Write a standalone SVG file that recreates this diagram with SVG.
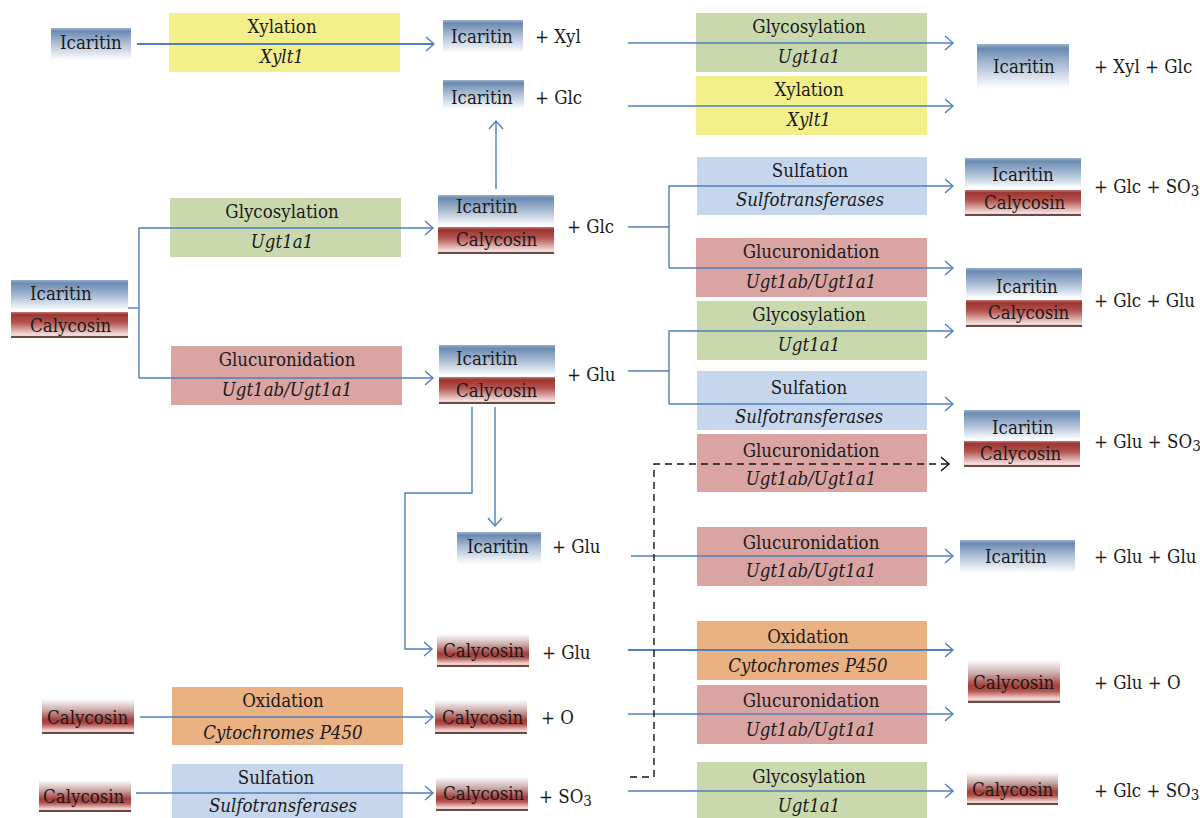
<svg xmlns="http://www.w3.org/2000/svg" width="1200" height="818" viewBox="0 0 1200 818">
<style>
text{font-family:"DejaVu Serif Condensed","DejaVu Serif",serif;font-stretch:condensed;font-size:18.5px;fill:#1a1a1a}
.c{text-anchor:middle}
.i{font-style:italic}
.yel{fill:#f3ef8b}
.grn{fill:#cad9ad}
.blu{fill:#c5d6ed}
.red{fill:#d9a4a2}
.org{fill:#eab182}
.ln{fill:none;stroke:#4f7fbe;stroke-width:1.4}
.thk{stroke-width:2}
.dash{fill:none;stroke:#111;stroke-width:1.4;stroke-dasharray:7,5}
.sub{font-size:15px}
</style>
<defs>
<linearGradient id="gI" x1="0" y1="0" x2="0" y2="1">
<stop offset="0" stop-color="#9fb3cd"/><stop offset="0.1" stop-color="#6a89b2"/><stop offset="0.45" stop-color="#a9bcd4"/><stop offset="1" stop-color="#ffffff"/>
</linearGradient>
<linearGradient id="gIS" x1="0" y1="0" x2="0" y2="1">
<stop offset="0" stop-color="#9ab0cb"/><stop offset="0.1" stop-color="#6b8ab2"/><stop offset="0.5" stop-color="#aabdd5"/><stop offset="0.95" stop-color="#ffffff"/><stop offset="1" stop-color="#ffffff"/>
</linearGradient>
<linearGradient id="gCS" x1="0" y1="0" x2="0" y2="1">
<stop offset="0" stop-color="#c77a76"/><stop offset="0.1" stop-color="#9c3531"/><stop offset="0.4" stop-color="#b4524d"/><stop offset="0.88" stop-color="#f5e1df"/><stop offset="0.93" stop-color="#e6c9c6"/><stop offset="0.94" stop-color="#6b4a45"/><stop offset="1" stop-color="#6b4a45"/>
</linearGradient>
<linearGradient id="gC" x1="0" y1="0" x2="0" y2="1">
<stop offset="0" stop-color="#ffffff"/><stop offset="0.3" stop-color="#cdb0ae"/><stop offset="0.6" stop-color="#a33e39"/><stop offset="0.72" stop-color="#b4524d"/><stop offset="0.9" stop-color="#f2d6d3"/><stop offset="0.94" stop-color="#e6c9c6"/><stop offset="0.95" stop-color="#6b4a45"/><stop offset="1" stop-color="#6b4a45"/>
</linearGradient>
<marker id="ah" viewBox="-10 -8 12 16" refX="0" refY="0" markerWidth="12" markerHeight="16" markerUnits="userSpaceOnUse" orient="auto">
<path d="M-8,-7 L0,0 L-8,7" fill="none" stroke="#4f7fbe" stroke-width="1.4"/>
</marker>
<marker id="ahk" viewBox="-10 -8 12 16" refX="0" refY="0" markerWidth="12" markerHeight="16" markerUnits="userSpaceOnUse" orient="auto">
<path d="M-8,-7 L0,0 L-8,7" fill="none" stroke="#111" stroke-width="1.4"/>
</marker>
</defs>
<rect width="1200" height="818" fill="#ffffff"/>

<!-- enzyme boxes -->
<g id="e-xyl-1"><rect class="yel" x="169" y="13" width="231" height="59"/><text class="c" x="282" y="33">Xylation</text><text class="c i" x="282" y="63">Xylt1</text></g>
<g id="e-gly-1"><rect class="grn" x="696" y="13" width="231" height="59"/><text class="c" x="809" y="33">Glycosylation</text><text class="c i" x="809" y="63">Ugt1a1</text></g>
<g id="e-xyl-2"><rect class="yel" x="696" y="76" width="231" height="59"/><text class="c" x="809" y="96">Xylation</text><text class="c i" x="809" y="126">Xylt1</text></g>
<g id="e-sul-1"><rect class="blu" x="697" y="157" width="230" height="58"/><text class="c" x="810" y="177">Sulfation</text><text class="c i" x="810" y="206">Sulfotransferases</text></g>
<g id="e-gly-2"><rect class="grn" x="170" y="198" width="231" height="59"/><text class="c" x="282" y="218">Glycosylation</text><text class="c i" x="282" y="248">Ugt1a1</text></g>
<g id="e-glu-1"><rect class="red" x="696" y="238" width="231" height="59"/><text class="c" x="811" y="258">Glucuronidation</text><text class="c i" x="811" y="288">Ugt1ab/Ugt1a1</text></g>
<g id="e-gly-3"><rect class="grn" x="697" y="301" width="230" height="59"/><text class="c" x="809" y="321">Glycosylation</text><text class="c i" x="809" y="351">Ugt1a1</text></g>
<g id="e-glu-2"><rect class="red" x="171" y="346" width="231" height="59"/><text class="c" x="287" y="366">Glucuronidation</text><text class="c i" x="287" y="396">Ugt1ab/Ugt1a1</text></g>
<g id="e-sul-2"><rect class="blu" x="697" y="371" width="230" height="59"/><text class="c" x="809" y="394">Sulfation</text><text class="c i" x="809" y="423">Sulfotransferases</text></g>
<g id="e-glu-3"><rect class="red" x="697" y="434" width="230" height="58"/><text class="c" x="811" y="457">Glucuronidation</text><text class="c i" x="811" y="485">Ugt1ab/Ugt1a1</text></g>
<g id="e-glu-4"><rect class="red" x="697" y="527" width="230" height="59"/><text class="c" x="811" y="549">Glucuronidation</text><text class="c i" x="811" y="577">Ugt1ab/Ugt1a1</text></g>
<g id="e-ox-1"><rect class="org" x="697" y="621" width="230" height="59"/><text class="c" x="808" y="643">Oxidation</text><text class="c i" x="808" y="672">Cytochromes P450</text></g>
<g id="e-glu-5"><rect class="red" x="697" y="685" width="230" height="59"/><text class="c" x="811" y="707">Glucuronidation</text><text class="c i" x="811" y="736">Ugt1ab/Ugt1a1</text></g>
<g id="e-ox-2"><rect class="org" x="172" y="687" width="231" height="58"/><text class="c" x="283" y="707">Oxidation</text><text class="c i" x="283" y="739">Cytochromes P450</text></g>
<g id="e-sul-3"><rect class="blu" x="172" y="764" width="231" height="54"/><text class="c" x="276" y="784">Sulfation</text><text class="c i" x="283" y="812">Sulfotransferases</text></g>
<g id="e-gly-4"><rect class="grn" x="697" y="762" width="230" height="56"/><text class="c" x="809" y="783">Glycosylation</text><text class="c i" x="809" y="812">Ugt1a1</text></g>

<!-- compound nodes -->
<g id="n-icar-1"><rect fill="url(#gI)" x="51" y="28" width="80" height="32"/><text x="60" y="49">Icaritin</text></g>
<g id="n-icar-xyl"><rect fill="url(#gI)" x="443" y="20" width="80" height="33"/><text x="451" y="43">Icaritin</text><text x="535" y="43">+ Xyl</text></g>
<g id="n-icar-glc"><rect fill="url(#gI)" x="443" y="80" width="81" height="29"/><text x="451" y="104">Icaritin</text><text x="535" y="104">+ Glc</text></g>
<g id="n-icar-xyl-glc"><rect fill="url(#gI)" x="977" y="44" width="92" height="44"/><text x="993" y="73">Icaritin</text><text x="1094" y="73">+ Xyl + Glc</text></g>

<g id="n-ic-left"><rect fill="url(#gIS)" x="11" y="280" width="117" height="32"/><rect fill="url(#gCS)" x="11" y="312" width="117" height="26"/><text x="30" y="300">Icaritin</text><text x="30" y="332">Calycosin</text></g>
<g id="n-ic-glc"><rect fill="url(#gIS)" x="438" y="195" width="116" height="32"/><rect fill="url(#gCS)" x="438" y="227" width="116" height="27"/><text x="456" y="213">Icaritin</text><text x="456" y="246">Calycosin</text><text x="567" y="233">+ Glc</text></g>
<g id="n-ic-glu"><rect fill="url(#gIS)" x="439" y="345" width="116" height="32"/><rect fill="url(#gCS)" x="439" y="377" width="116" height="27"/><text x="456" y="365">Icaritin</text><text x="456" y="397">Calycosin</text><text x="567" y="381">+ Glu</text></g>
<g id="n-ic-glc-so3"><rect fill="url(#gIS)" x="965" y="158" width="116" height="32"/><rect fill="url(#gCS)" x="965" y="190" width="116" height="26"/><text x="992" y="181">Icaritin</text><text x="984" y="209">Calycosin</text><text x="1094" y="193">+ Glc + SO<tspan class="sub" dy="3">3</tspan></text></g>
<g id="n-ic-glc-glu"><rect fill="url(#gIS)" x="966" y="268" width="116" height="32"/><rect fill="url(#gCS)" x="966" y="300" width="116" height="27"/><text x="996" y="293">Icaritin</text><text x="988" y="319">Calycosin</text><text x="1094" y="307">+ Glc + Glu</text></g>
<g id="n-ic-glu-so3"><rect fill="url(#gIS)" x="964" y="410" width="116" height="31"/><rect fill="url(#gCS)" x="964" y="441" width="116" height="26"/><text x="992" y="434">Icaritin</text><text x="980" y="460">Calycosin</text><text x="1094" y="448">+ Glu + SO<tspan class="sub" dy="3">3</tspan></text></g>

<g id="n-icar-glu"><rect fill="url(#gI)" x="457" y="532" width="84" height="32"/><text x="467" y="553">Icaritin</text><text x="552" y="553">+ Glu</text></g>
<g id="n-icar-glu-glu"><rect fill="url(#gI)" x="960" y="540" width="115" height="33"/><text x="985" y="563">Icaritin</text><text x="1094" y="563">+ Glu + Glu</text></g>
<g id="n-caly-glu"><rect fill="url(#gC)" x="437" y="634" width="92" height="33"/><text x="443" y="657">Calycosin</text><text x="542" y="659">+ Glu</text></g>
<g id="n-caly-glu-o"><rect fill="url(#gC)" x="968" y="660" width="92" height="43"/><text x="973" y="689">Calycosin</text><text x="1094" y="689">+ Glu + O</text></g>
<g id="n-caly-1"><rect fill="url(#gC)" x="42" y="699" width="92" height="35"/><text x="47" y="724">Calycosin</text></g>
<g id="n-caly-o"><rect fill="url(#gC)" x="435" y="700" width="92" height="34"/><text x="442" y="724">Calycosin</text><text x="541" y="724">+ O</text></g>
<g id="n-caly-2"><rect fill="url(#gC)" x="39" y="780" width="92" height="32"/><text x="43" y="803">Calycosin</text></g>
<g id="n-caly-so3"><rect fill="url(#gC)" x="436" y="777" width="92" height="34"/><text x="443" y="800">Calycosin</text><text x="539" y="803">+ SO<tspan class="sub" dy="3">3</tspan></text></g>
<g id="n-caly-glc-so3"><rect fill="url(#gC)" x="967" y="772" width="91" height="33"/><text x="972" y="796">Calycosin</text><text x="1094" y="797">+ Glc + SO<tspan class="sub" dy="3">3</tspan></text></g>

<!-- connectors -->
<g id="connectors">
<path class="ln thk" d="M137,44 H434" marker-end="url(#ah)"/>
<path class="ln" d="M496,189 V121" marker-end="url(#ah)"/>
<path class="ln" d="M628,43 H953" marker-end="url(#ah)"/>
<path class="ln" d="M628,106 H953" marker-end="url(#ah)"/>
<path class="ln" d="M128,308 H139"/>
<path class="ln" d="M139,378 V228 H433" marker-end="url(#ah)"/>
<path class="ln" d="M139,378 H433" marker-end="url(#ah)"/>
<path class="ln" d="M628,227 H669"/>
<path class="ln" d="M669,268 V186 H953" marker-end="url(#ah)"/>
<path class="ln" d="M669,268 H953" marker-end="url(#ah)"/>
<path class="ln" d="M628,371 H669"/>
<path class="ln" d="M669,404 V331 H953" marker-end="url(#ah)"/>
<path class="ln" d="M669,404 H953" marker-end="url(#ah)"/>
<path class="ln" d="M472,407 V493 H405 V649 H432" marker-end="url(#ah)"/>
<path class="ln" d="M495,407 V526" marker-end="url(#ah)"/>
<path class="ln" d="M631,556 H953" marker-end="url(#ah)"/>
<path class="ln thk" d="M628,650 H953" marker-end="url(#ah)"/>
<path class="ln" d="M140,717 H433" marker-end="url(#ah)"/>
<path class="ln" d="M628,714 H953" marker-end="url(#ah)"/>
<path class="ln" d="M136,793 H433" marker-end="url(#ah)"/>
<path class="ln" d="M628,791 H953" marker-end="url(#ah)"/>
<path class="dash" d="M630,777 H654 V464 H949" marker-end="url(#ahk)"/>
</g>
</svg>
